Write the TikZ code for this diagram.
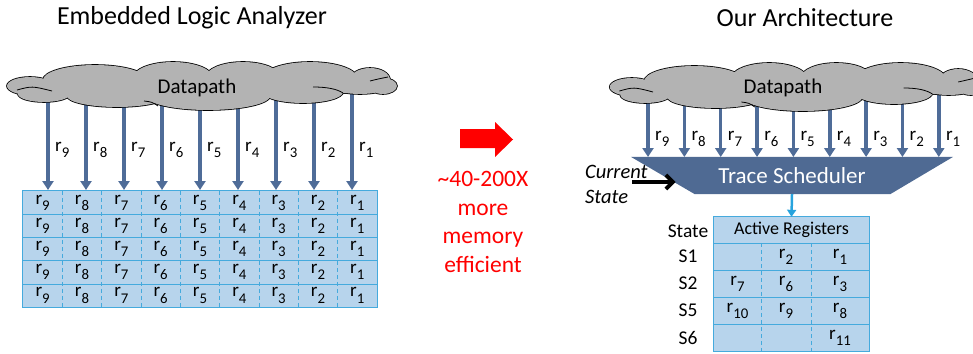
\documentclass[tikz,border=0pt]{standalone}
\usepackage{fontspec}
\setmainfont{Carlito}
\usetikzlibrary{positioning,calc,backgrounds,arrows.meta}

\definecolor{cloudgray}{HTML}{B3B3B3}
\definecolor{wireblue}{HTML}{4F6C98}
\definecolor{schedblue}{HTML}{4F6A93}
\definecolor{cellfill}{HTML}{B7D4EC}
\definecolor{cellline}{HTML}{45AADD}
\definecolor{feedblue}{HTML}{27A3DD}

% register name with a lowered index
\newcommand\reg[1]{r\raisebox{-.32em}{\scalebox{.78}{#1}}}

% lobes of the datapath cloud, around its centre
\newcommand\cloudlobes{
  (-172,1) ellipse [x radius=23, y radius=9]
  (-158,9) ellipse [x radius=26, y radius=8]
  (-107,-5) ellipse [x radius=52, y radius=15]
  (-29,-7) ellipse [x radius=40, y radius=16]
  (41,-8) ellipse [x radius=37, y radius=15]
  (108,-7) ellipse [x radius=47, y radius=16]
  (168,-5) ellipse [x radius=20, y radius=12]
  (181,1) ellipse [x radius=14, y radius=8]
  (-85,11) ellipse [x radius=50, y radius=11]
  (6,11) ellipse [x radius=62, y radius=14]
  (101,7) ellipse [x radius=40, y radius=11]
  (158,3) ellipse [x radius=25, y radius=6]
  (0,2) ellipse [x radius=165, y radius=12]}
% inner folds of the cloud
\newcommand\cloudfolds{
  (-185,5) .. controls (-170,1) .. (-150,6)
  (111,2) .. controls (125,2) and (135,4) .. (141,8)
  (168,-4) .. controls (176,-6) .. (186,-8)
  (-58,16) .. controls (-50,17) .. (-44,21)}

\tikzset{
  title/.style={font=\fontsize{26}{30}\selectfont},
  cloudtext/.style={font=\fontsize{21}{24}\selectfont},
  cloudedge/.style={draw=black, line width=1.6pt},
  wire/.style={wireblue, line width=3.5pt, -{Triangle[width=11pt,length=9pt]}},
  reglabel/.style={anchor=base west, inner sep=0, font=\fontsize{19}{22}\selectfont},
  cell/.style={fill=cellfill, inner sep=0, minimum width=39.33pt,
    minimum height=23.2pt, font=\fontsize{19}{20}\selectfont},
  tcell/.style={fill=cellfill, inner sep=0, minimum height=27pt,
    font=\fontsize{19}{22}\selectfont},
  gridline/.style={cellline, line width=1pt},
  dashline/.style={gridline, dash pattern=on 4pt off 3pt},
  statelabel/.style={font=\fontsize{19.5}{22}\selectfont},
}

\begin{document}
\begin{tikzpicture}[x=1pt,y=-1pt]
  \useasboundingbox (0,0) rectangle (973,353);

  % titles
  \node[title] (lefttitle) at (192,18) {Embedded Logic Analyzer};
  \node[title] (righttitle) at (805,18) {Our Architecture};

  % ---- logic analyzer side ----
  \node[cloudtext] (ldp) at (197,88) {Datapath};

  \foreach \row in {1,...,5}
    \foreach \col in {1,...,9} {
      \pgfmathtruncatemacro\r{10-\col}
      \node[cell] (g\row-\col) at ({23+(\col-0.5)*39.33},{191+(\row-0.5)*23.2}) {\reg{\r}};
    }

  \draw[gridline] (g1-1.north west) rectangle (g5-9.south east);
  \foreach \row in {1,...,4}
    \draw[gridline] (g\row-1.south west) -- (g\row-9.south east);
  \foreach \col in {1,...,8}
    \draw[dashline] (g1-\col.north east) -- (g5-\col.south east);

  \begin{scope}[on background layer]
    \foreach \i in {1,...,9} {
      \pgfmathtruncatemacro\r{10-\i}
      \coordinate (la\i) at ({48+38*(\i-1)},190);
      \draw[wire] (la\i |- ldp.center) -- (la\i);
      \node[reglabel] (lr\i) at ([xshift=7pt]la\i |- 0,151) {\reg{\r}};
    }
    \begin{scope}[shift={(202,85)}]
      \draw[cloudedge] \cloudlobes;
      \fill[cloudgray] \cloudlobes;
      \draw[line width=0.8pt] \cloudfolds;
    \end{scope}
  \end{scope}

  % ---- comparison arrow ----
  \fill[red] (460,129) -- (495,129) -- (495,122) -- (513,139.5) -- (495,157)
    -- (495,148) -- (460,148) -- cycle;
  \node[red, align=center, font=\fontsize{23.5}{28.5}\selectfont] (gain) at (483,222)
    {\textasciitilde40-200X\\more\\memory\\efficient};

  % ---- our architecture side ----
  \node[cloudtext] (rdp) at (783,88) {Datapath};

  \node[minimum width=322pt, minimum height=37pt, inner sep=0, text=white,
    font=\fontsize{23}{26}\selectfont] (ts) at (792,175.5) {Trace Scheduler};
  \begin{scope}[on background layer]
    \fill[schedblue] (ts.north west) -- (ts.north east)
      -- ([xshift=-63pt]ts.south east) -- ([xshift=64pt]ts.south west) -- cycle;
    \foreach \i in {1,...,9} {
      \pgfmathtruncatemacro\r{10-\i}
      \coordinate (ra\i) at ({648+36.35*(\i-1)},157);
      \draw[wire] (ra\i |- rdp.center) -- (ra\i);
      \node[reglabel] (rr\i) at ([xshift=7pt]ra\i |- 0,140) {\reg{\r}};
    }
    \begin{scope}[shift={(797,86)}, xscale=0.96]
      \draw[cloudedge] \cloudlobes;
      \fill[cloudgray] \cloudlobes;
      \draw[line width=0.8pt] \cloudfolds;
    \end{scope}
  \end{scope}

  \node[align=left, anchor=west, inner sep=0, font=\itshape\fontsize{20.5}{25}\selectfont]
    (cs) at (585,184.5) {Current\\State};
  \coordinate (tsedge) at ($(ts.north west)!0.7!([xshift=64pt]ts.south west)$);
  \coordinate (csstart) at ([xshift=47pt]cs.west |- 0,182);
  \draw[black, line width=3.8pt, -{Straight Barb[length=7pt,width=14pt]}]
    (csstart) -- (csstart -| tsedge);

  % active register table
  \node[fill=cellfill, minimum width=155pt, minimum height=26pt, inner sep=0,
    font=\fontsize{18}{22}\selectfont] (hd) at (791.5,230) {Active Registers};
  \node[statelabel] (statehd) at (688,231) {State};

  \foreach \row/\st/\ca/\cb/\cc in {1/S1/{}/{\reg{2}}/{\reg{1}},
      2/S2/{\reg{7}}/{\reg{6}}/{\reg{3}},
      3/S5/{\reg{10}}/{\reg{9}}/{\reg{8}},
      4/S6/{}/{}/{\reg{11}}} {
    \node[tcell, minimum width=47pt] (t\row-1) at (737.5,{243+27*(\row-0.5)}) {\ca};
    \node[tcell, minimum width=50pt] (t\row-2) at (786,{243+27*(\row-0.5)}) {\cb};
    \node[tcell, minimum width=58pt] (t\row-3) at (840,{243+27*(\row-0.5)}) {\cc};
    \node[statelabel] (s\row) at (688,{243+27*(\row-0.5)}) {\st};
  }

  \draw[gridline] (hd.north west) rectangle (t4-3.south east);
  \draw[gridline] (hd.south west) -- (hd.south east);
  \foreach \row in {1,...,3}
    \draw[gridline] (t\row-1.south west) -- (t\row-3.south east);
  \foreach \col in {1,2}
    \draw[dashline] (t1-\col.north east) -- (t4-\col.south east);

  \draw[feedblue, line width=2.5pt, -{Triangle[width=9pt,length=7pt]}]
    (ts.south) -- (hd.north);
\end{tikzpicture}
\end{document}
